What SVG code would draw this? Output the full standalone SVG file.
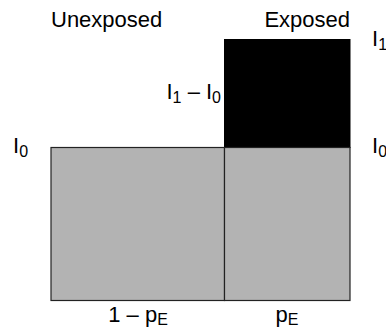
<svg xmlns="http://www.w3.org/2000/svg" width="386" height="328" viewBox="0 0 386 328">
<style>
text { font-family: "Liberation Sans", Arial, sans-serif; font-size: 22px; fill: #000; }
.sub { font-size: 16px; }
.gray { fill: #b3b3b3; stroke: #222; stroke-width: 1.2; }
.black { fill: #000; stroke: #000; stroke-width: 1; }
</style>
<rect x="0" y="0" width="386" height="328" fill="#fff"/>
<g id="exposed-excess">
<rect class="black" x="224.5" y="39.5" width="125.5" height="108"/>
</g>
<g id="unexposed-base">
<rect class="gray" x="51" y="147.5" width="173.5" height="153"/>
</g>
<g id="exposed-base">
<rect class="gray" x="224.5" y="147.5" width="125.5" height="153"/>
</g>
<g id="connectors"></g>
<g id="labels">
<text x="51" y="27">Unexposed</text>
<text x="350" y="27" text-anchor="end">Exposed</text>
<text x="372" y="46">I<tspan class="sub" dy="4">1</tspan></text>
<text x="372" y="153">I<tspan class="sub" dy="4">0</tspan></text>
<text x="13" y="153">I<tspan class="sub" dy="4">0</tspan></text>
<text x="221" y="99" text-anchor="end">I<tspan class="sub" dy="4">1</tspan><tspan dy="-4"> – I</tspan><tspan class="sub" dy="4">0</tspan></text>
<text x="138" y="322" text-anchor="middle">1 – p<tspan class="sub" dy="3">E</tspan></text>
<text x="287" y="322" text-anchor="middle">p<tspan class="sub" dy="3">E</tspan></text>
</g>
</svg>
